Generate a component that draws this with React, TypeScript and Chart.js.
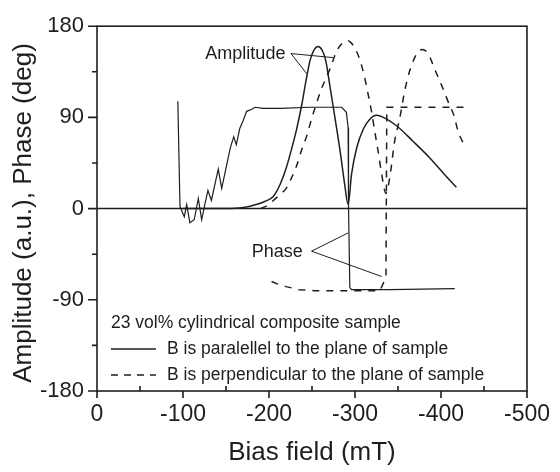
import React, { useEffect, useRef } from "react";
import { Chart, registerables } from "chart.js";
Chart.register(...registerables);

// ---- data (x: bias field in mT, y: amplitude a.u. / phase deg) ----
const parAmpX = [-100, -150, -170, -185, -195, -205, -213, -220, -226, -232, -238, -243, -248, -252, -257, -262, -266, -271, -277, -283, -288, -292, -296, -302, -310, -317, -325, -333, -348, -368, -387, -407, -418];
const parAmpY = [0, 0, 1, 4, 7, 12, 24, 40, 58, 78, 102, 126, 147, 156, 160, 156, 146, 120, 88, 55, 24, 4, 34, 60, 79, 88, 92, 90, 82, 66, 50, 31, 21];

const parPhaseX = [-94, -96.5, -101.5, -104.3, -108, -113, -117.8, -121.7, -125.6, -129, -133, -141, -145, -151, -155, -159, -162, -166, -170, -174, -180, -184, -193, -213, -248, -284.5, -290, -292, -292.5, -294, -296, -340, -416];
const parPhaseY = [106, 2, -8, 4, -14, -11, 10, -11, 5, 18, 8, 39, 20, 44, 60, 71, 63, 79, 87, 96, 98, 100, 99, 99, 100, 100, 95, 80, 0, -78, -80, -80, -79];

const perpAmpX = [-190, -200, -205, -213, -220, -226, -232, -238, -244, -250, -255, -260, -266, -271, -279, -285, -290, -295, -300, -306, -311, -315, -319, -323, -327, -331, -336, -341, -346, -352, -358, -364, -372, -378, -385, -393, -403, -409, -415, -420, -428];
const perpAmpY = [0, 4, 8, 14, 20, 30, 42, 58, 72, 90, 103, 116, 128, 138, 156, 163, 166, 164, 158, 146, 130, 114, 97, 76, 56, 34, 15, 34, 66, 89, 117, 137, 153, 157, 153, 137, 117, 104, 92, 76, 61];

const perpPhaseX = [-203, -212, -220, -235, -252, -300, -329, -336, -337, -343, -430];
const perpPhaseY = [-72, -75, -77, -80, -81, -81, -81, -68, 100, 100, 100];

const xMajorTicks = [0, -100, -200, -300, -400, -500];
const xMinorTicks = [-50, -150, -250, -350, -450];
const yMajorTicks = [180, 90, 0, -90, -180];
const yMinorTicks = [135, 45, -45, -135];

const xTitle = "Bias field (mT)";
const yTitle = "Amplitude (a.u.), Phase (deg)";
const legendTitle = "23 vol% cylindrical composite sample";
const legendSolid = "B is paralellel to the plane of sample";
const legendDashed = "B is perpendicular to the plane of sample";

// annotations in data coordinates
const ampLabel = { text: "Amplitude", x: -126, y: 153 };
const ampArrowFrom = { x: -225.6, y: 153 };
const ampArrowTo = [{ x: -274.4, y: 149 }, { x: -244, y: 133 }];
const phaseLabel = { text: "Phase", x: -180, y: -43 };
const phaseArrowFrom = { x: -249.5, y: -42 };
const phaseArrowTo = [{ x: -292, y: -24 }, { x: -331, y: -67 }];

const FONT = "'Liberation Sans', Arial, Helvetica, sans-serif";
const INK = "#1e1e1e";

const pts = (xs: number[], ys: number[]) => xs.map((x, i) => ({ x, y: ys[i] }));

export default function App() {
  const ref = useRef<HTMLCanvasElement | null>(null);
  useEffect(() => {
    const canvas = ref.current!;
    const overlay = {
      id: "overlay",
      beforeDatasetsDraw(chart: any) {
        const { ctx, chartArea: a, scales } = chart;
        const ys = scales.y;
        ctx.save();
        ctx.strokeStyle = INK;
        ctx.lineWidth = 1.5;
        const y0 = ys.getPixelForValue(0);
        ctx.beginPath();
        ctx.moveTo(a.left, y0);
        ctx.lineTo(a.right, y0);
        ctx.stroke();
        ctx.restore();
      },
      afterDatasetsDraw(chart: any) {
        const { ctx, chartArea: a, scales } = chart;
        const xs = scales.x, ys = scales.y;
        ctx.save();
        ctx.strokeStyle = INK;
        ctx.lineWidth = 1.6;
        ctx.strokeRect(a.left, a.top, a.right - a.left, a.bottom - a.top);
        // ticks
        ctx.beginPath();
        yMajorTicks.forEach((v) => {
          const p = ys.getPixelForValue(v);
          ctx.moveTo(a.left - 9, p);
          ctx.lineTo(a.left, p);
        });
        yMinorTicks.forEach((v) => {
          const p = ys.getPixelForValue(v);
          ctx.moveTo(a.left - 5, p);
          ctx.lineTo(a.left, p);
        });
        xMajorTicks.forEach((v) => {
          const p = xs.getPixelForValue(v);
          ctx.moveTo(p, a.bottom);
          ctx.lineTo(p, a.bottom + 7);
        });
        xMinorTicks.forEach((v) => {
          const p = xs.getPixelForValue(v);
          ctx.moveTo(p, a.bottom);
          ctx.lineTo(p, a.bottom - 5);
        });
        ctx.stroke();

        // annotations
        ctx.fillStyle = INK;
        ctx.lineWidth = 1;
        ctx.font = `18px ${FONT}`;
        ctx.textBaseline = "middle";
        ctx.textAlign = "left";
        ctx.fillText(ampLabel.text, xs.getPixelForValue(ampLabel.x), ys.getPixelForValue(ampLabel.y));
        ctx.fillText(phaseLabel.text, xs.getPixelForValue(phaseLabel.x), ys.getPixelForValue(phaseLabel.y));
        const arrows = (from: any, tos: any[]) => {
          const fx = xs.getPixelForValue(from.x), fy = ys.getPixelForValue(from.y);
          tos.forEach((t) => {
            ctx.beginPath();
            ctx.moveTo(fx, fy);
            ctx.lineTo(xs.getPixelForValue(t.x), ys.getPixelForValue(t.y));
            ctx.stroke();
          });
        };
        arrows(ampArrowFrom, ampArrowTo);
        arrows(phaseArrowFrom, phaseArrowTo);

        // legend box
        ctx.font = `17.5px ${FONT}`;
        ctx.fillText(legendTitle, 111, 323);
        ctx.fillText(legendSolid, 167, 349);
        ctx.fillText(legendDashed, 167, 375);
        ctx.lineWidth = 1.3;
        ctx.beginPath();
        ctx.moveTo(111, 349);
        ctx.lineTo(156, 349);
        ctx.stroke();
        ctx.setLineDash([7, 6]);
        ctx.beginPath();
        ctx.moveTo(111, 375);
        ctx.lineTo(156, 375);
        ctx.stroke();
        ctx.setLineDash([]);

        // titles
        ctx.font = `26px ${FONT}`;
        ctx.textAlign = "center";
        ctx.fillText(xTitle, (a.left + a.right) / 2, 453);
        ctx.translate(24, 213);
        ctx.rotate(-Math.PI / 2);
        ctx.fillText(yTitle, 0, 0);
        ctx.restore();
      },
    };

    const lineBase = {
      borderColor: INK,
      borderWidth: 1.5,
      pointRadius: 0,
      fill: false,
    };

    const chart = new Chart(canvas, {
      type: "line",
      data: {
        datasets: [
          { ...lineBase, data: pts(parAmpX, parAmpY), cubicInterpolationMode: "monotone" },
          { ...lineBase, data: pts(parPhaseX, parPhaseY), tension: 0, borderWidth: 1.2 },
          { ...lineBase, data: pts(perpAmpX, perpAmpY), cubicInterpolationMode: "monotone", borderDash: [7, 7] },
          { ...lineBase, data: pts(perpPhaseX, perpPhaseY), tension: 0, borderDash: [7, 7] },
        ] as any,
      },
      options: {
        animation: false,
        responsive: false,
        layout: { padding: { top: 16, right: 33, left: 0, bottom: 0 } },
        plugins: { legend: { display: false }, tooltip: { enabled: false } },
        scales: {
          x: {
            type: "linear",
            min: -500,
            max: 0,
            reverse: true,
            grid: { display: false, drawTicks: true, tickLength: 0 },
            border: { display: false },
            ticks: {
              stepSize: 100,
              autoSkip: false,
              maxRotation: 0,
              padding: 10,
              color: INK,
              font: { size: 23, family: FONT },
            },
            afterFit: (s: any) => { s.height = 81; },
          },
          y: {
            type: "linear",
            min: -180,
            max: 180,
            grid: { display: false, drawTicks: true, tickLength: 0 },
            border: { display: false },
            ticks: {
              stepSize: 90,
              autoSkip: false,
              padding: 13,
              color: INK,
              font: { size: 22, family: FONT },
            },
            afterFit: (s: any) => { s.width = 97; },
          },
        },
      } as any,
      plugins: [overlay],
    });
    return () => chart.destroy();
  }, []);

  return (
    <div style={{ position: "fixed", left: 0, top: 0, width: 560, height: 472, background: "#fff" }}>
      <canvas ref={ref} width={560} height={472} style={{ display: "block", width: 560, height: 472 }} />
    </div>
  );
}
